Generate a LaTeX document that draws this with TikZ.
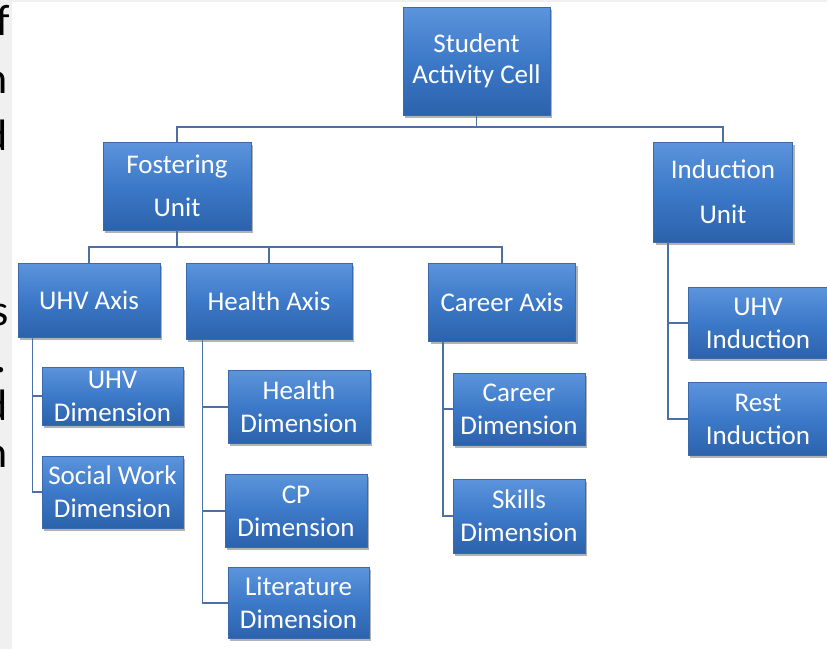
\documentclass[tikz,border=0pt]{standalone}
\usepackage{fontspec}
\setmainfont{Carlito}
\usetikzlibrary{shadows}
\definecolor{boxtop}{RGB}{92,148,220}
\definecolor{boxmid}{RGB}{60,121,200}
\definecolor{boxbot}{RGB}{44,98,172}
\definecolor{boxline}{RGB}{58,106,172}
\definecolor{connc}{RGB}{74,112,165}
\definecolor{stripgray}{RGB}{240,240,240}
\begin{document}
\begin{tikzpicture}[x=1pt,y=-1pt,
  box/.style={rectangle, draw=boxline, line width=0.8pt, top color=boxtop, bottom color=boxbot, middle color=boxmid,
    text=white, align=center, inner sep=0pt, font=\fontsize{27}{33}\selectfont,
    drop shadow={shadow xshift=2pt, shadow yshift=-2.5pt, opacity=0.3, fill=black}},
  conn/.style={draw=connc, line width=1.6pt},
  edgeletter/.style={anchor=base east, inner sep=0pt, font=\fontsize{44}{44}\selectfont, text=black}
]
\useasboundingbox (0,0) rectangle (827,649);
\fill[white] (0,0) rectangle (827,649);
\fill[stripgray] (0,0) rectangle (12,649);
\fill[stripgray] (0,0) rectangle (827,2);

% cropped letters of the neighbouring text column
\begin{scope}
\clip (0,0) rectangle (12,649);
\node[edgeletter] (l1) at (10,35) {f};
\node[edgeletter] (l2) at (8,93) {n};
\node[edgeletter] (l3) at (8,150) {d};
\node[edgeletter] (l4) at (9,325) {s};
\node[edgeletter] (l5) at (7,372) {.};
\node[edgeletter] (l6) at (8,420) {d};
\node[edgeletter] (l7) at (8,467) {n};
\end{scope}

\coordinate (bus0) at (0,127);
\coordinate (bus1) at (0,247);

% boxes
\node[box, minimum width=147pt, minimum height=108pt, font=\fontsize{27}{31}\selectfont] (sac) at (476.5,61) {Student\\Activity Cell};
\node[box, minimum width=148pt, minimum height=88pt, font=\fontsize{27}{43}\selectfont] (fos) at (177,186) {Fostering\\Unit};
\node[box, minimum width=139pt, minimum height=100pt, font=\fontsize{27}{45}\selectfont] (ind) at (723,192) {Induction\\Unit};

\node[box, minimum width=142pt, minimum height=74pt] (uhvax) at (89,300) {UHV Axis};
\node[box, minimum width=166pt, minimum height=76pt] (health) at (269,301) {Health Axis};
\node[box, minimum width=147pt, minimum height=78pt] (career) at (502,302) {Career Axis};

\node[box, minimum width=141pt, minimum height=58pt] (uhvd) at (112.5,396) {UHV\\Dimension};
\node[box, minimum width=141pt, minimum height=72pt] (swd) at (112.5,492) {Social Work\\Dimension};

\node[box, minimum width=142pt, minimum height=73pt] (hd) at (299,407) {Health\\Dimension};
\node[box, minimum width=142pt, minimum height=73pt] (cpd) at (296,511) {CP\\Dimension};
\node[box, minimum width=141pt, minimum height=71pt] (ltd) at (298.5,603) {Literature\\Dimension};

\node[box, minimum width=132pt, minimum height=72pt] (cd) at (519,409) {Career\\Dimension};
\node[box, minimum width=132pt, minimum height=74pt] (skd) at (519,516) {Skills\\Dimension};

\node[box, minimum width=140pt, minimum height=71pt] (uhvi) at (758,323) {UHV\\Induction};
\node[box, minimum width=140pt, minimum height=73pt] (rsti) at (758,419) {Rest\\Induction};

% connectors
\draw[conn] (sac.south) -- (sac.south |- bus0);
\draw[conn] (fos.north) |- (ind.north |- bus0) -- (ind.north);

\draw[conn] (fos.south) -- (fos.south |- bus1);
\draw[conn] (uhvax.north) |- (career.north |- bus1) -- (career.north);
\draw[conn] (health.north) -- (health.north |- bus1);

\draw[conn] ([xshift=15pt]uhvax.south west) |- (uhvd.west);
\draw[conn] ([xshift=15pt]uhvax.south west) |- (swd.west);

\draw[conn] ([xshift=17pt]health.south west) |- (hd.west);
\draw[conn] ([xshift=17pt]health.south west) |- (cpd.west);
\draw[conn] ([xshift=17pt]health.south west) |- (ltd.west);

\draw[conn] ([xshift=15pt]career.south west) |- (cd.west);
\draw[conn] ([xshift=15pt]career.south west) |- (skd.west);

\draw[conn] ([xshift=15pt]ind.south west) |- (uhvi.west);
\draw[conn] ([xshift=15pt]ind.south west) |- (rsti.west);
\end{tikzpicture}
\end{document}
